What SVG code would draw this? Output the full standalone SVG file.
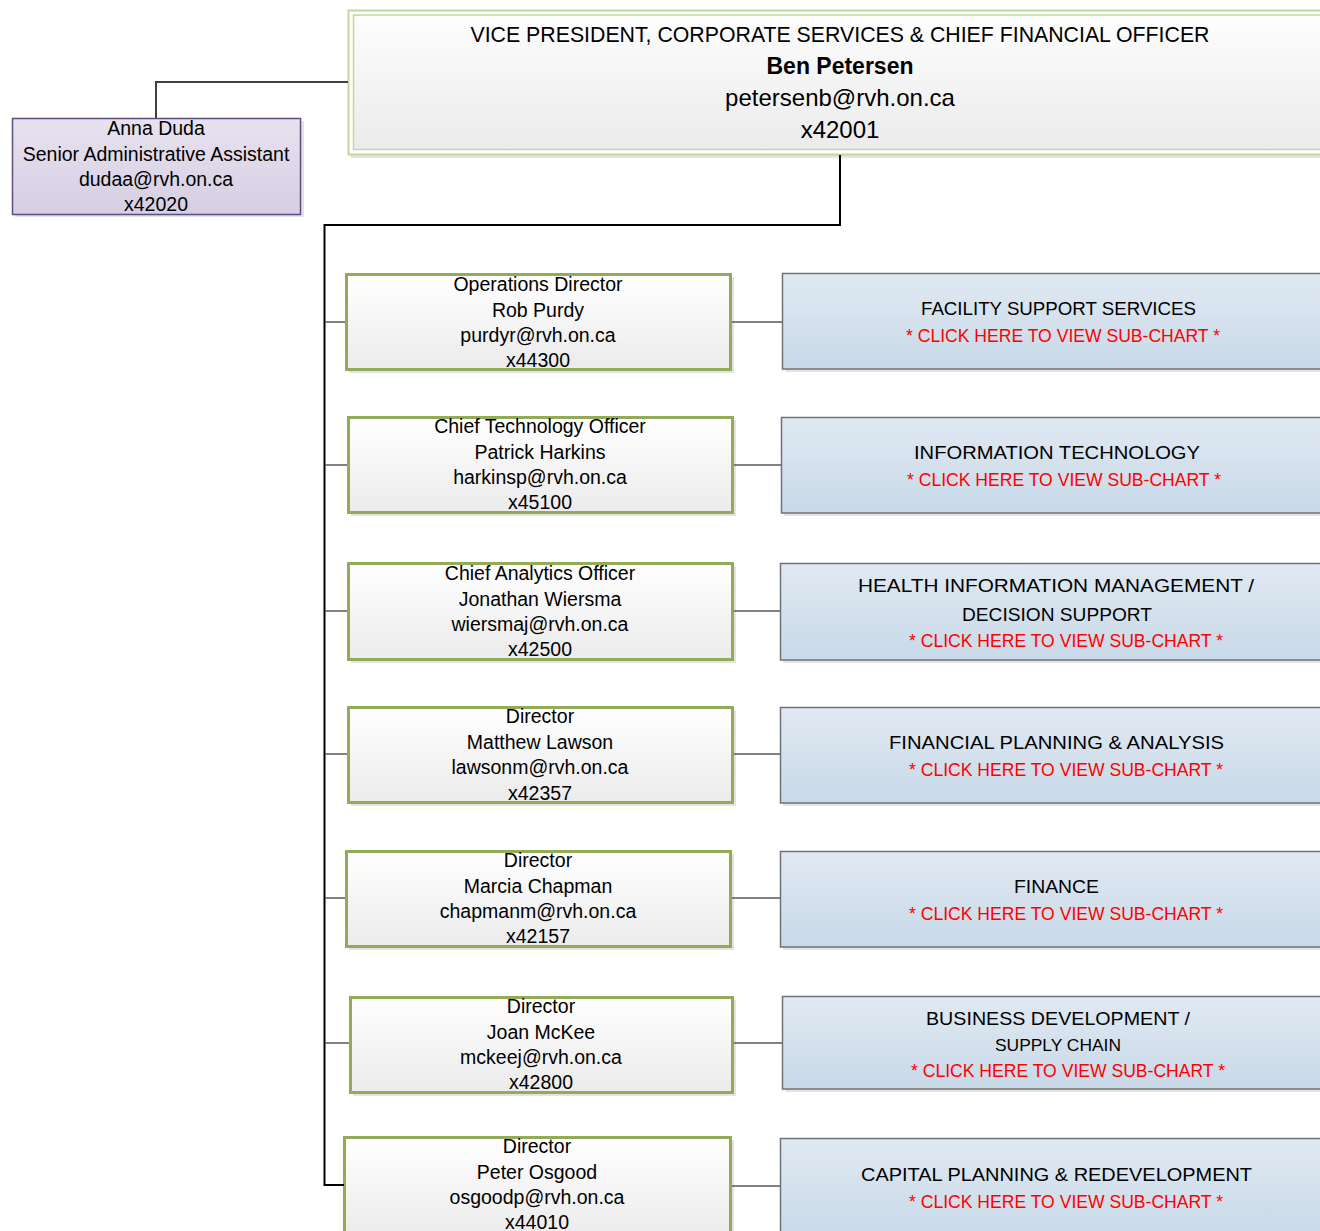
<svg xmlns="http://www.w3.org/2000/svg" width="1320" height="1231" viewBox="0 0 1320 1231">
<defs>
<linearGradient id="gGreen" x1="0" y1="0" x2="0" y2="1"><stop offset="0" stop-color="#ffffff"/><stop offset="1" stop-color="#ebebeb"/></linearGradient>
<linearGradient id="gBlue" x1="0" y1="0" x2="0" y2="1"><stop offset="0" stop-color="#e0e9f2"/><stop offset="1" stop-color="#c8d9e8"/></linearGradient>
<linearGradient id="gPurple" x1="0" y1="0" x2="0" y2="1"><stop offset="0" stop-color="#e7e2ef"/><stop offset="1" stop-color="#d6cee3"/></linearGradient>
<linearGradient id="gVP" x1="0" y1="0" x2="0" y2="1"><stop offset="0" stop-color="#fdfdfd"/><stop offset="1" stop-color="#ebebeb"/></linearGradient>
<style>
text{font-family:"Liberation Sans",Arial,sans-serif;fill:#000;text-anchor:middle}
.d{font-size:19.5px}
.vp{font-size:24px}
.bt{font-size:19px}
.red{font-size:17.5px;fill:#ff0000}
.sm{font-size:17px}
.shadow{fill:#e3e3e3}
.dir{fill:url(#gGreen);stroke:#92ab57;stroke-width:3}
.dept{fill:url(#gBlue);stroke:#6f7277;stroke-width:1.5}
.conn{fill:none;stroke:#595959;stroke-width:1.5}
.trunk{fill:none;stroke:#000;stroke-width:2}
</style>
</defs>

<g id="vp">
<rect x="351" y="13" width="1000" height="145" class="shadow"/>
<rect x="348.5" y="10.5" width="1000" height="144" fill="#ffffff" stroke="#c3d69b" stroke-width="2"/>
<rect x="353.5" y="15" width="1000" height="134.5" fill="url(#gVP)" stroke="#c3d69b" stroke-width="1.5"/>
<text x="840" y="42" style="font-size:21.5px" textLength="739" lengthAdjust="spacingAndGlyphs">VICE PRESIDENT, CORPORATE SERVICES &amp; CHIEF FINANCIAL OFFICER</text>
<text x="840" y="74" style="font-size:23px;font-weight:bold">Ben Petersen</text>
<text x="840" y="106" class="vp">petersenb@rvh.on.ca</text>
<text x="840" y="138" class="vp">x42001</text>
</g>

<g id="assistant">
<rect x="15" y="121" width="289" height="96" class="shadow"/>
<rect x="12.5" y="118.5" width="288" height="96" fill="url(#gPurple)" stroke="#5e4d80" stroke-width="1.5"/>
<text x="156" y="135" class="d">Anna Duda</text>
<text x="156" y="161" class="d">Senior Administrative Assistant</text>
<text x="156" y="186" class="d">dudaa@rvh.on.ca</text>
<text x="156" y="211" class="d">x42020</text>
</g>

<g id="purdy">
<rect x="349" y="277" width="385" height="96" class="shadow"/>
<rect x="346.5" y="274.5" width="384" height="95" class="dir"/>
<text x="538" y="291" class="d">Operations Director</text>
<text x="538" y="317" class="d">Rob Purdy</text>
<text x="538" y="342" class="d">purdyr@rvh.on.ca</text>
<text x="538" y="367" class="d">x44300</text>
</g>

<g id="harkins">
<rect x="351" y="420" width="385" height="96" class="shadow"/>
<rect x="348.5" y="417.5" width="384" height="95" class="dir"/>
<text x="540" y="433" class="d">Chief Technology Officer</text>
<text x="540" y="459" class="d">Patrick Harkins</text>
<text x="540" y="484" class="d">harkinsp@rvh.on.ca</text>
<text x="540" y="509" class="d">x45100</text>
</g>

<g id="wiersma">
<rect x="351" y="566" width="385" height="97" class="shadow"/>
<rect x="348.5" y="563.5" width="384" height="96" class="dir"/>
<text x="540" y="580" class="d">Chief Analytics Officer</text>
<text x="540" y="606" class="d">Jonathan Wiersma</text>
<text x="540" y="631" class="d">wiersmaj@rvh.on.ca</text>
<text x="540" y="656" class="d">x42500</text>
</g>

<g id="lawson">
<rect x="351" y="710" width="385" height="96" class="shadow"/>
<rect x="348.5" y="707.5" width="384" height="95" class="dir"/>
<text x="540" y="723" class="d">Director</text>
<text x="540" y="749" class="d">Matthew Lawson</text>
<text x="540" y="774" class="d">lawsonm@rvh.on.ca</text>
<text x="540" y="800" class="d">x42357</text>
</g>

<g id="chapman">
<rect x="349" y="854" width="385" height="96" class="shadow"/>
<rect x="346.5" y="851.5" width="384" height="95" class="dir"/>
<text x="538" y="867" class="d">Director</text>
<text x="538" y="893" class="d">Marcia Chapman</text>
<text x="538" y="918" class="d">chapmanm@rvh.on.ca</text>
<text x="538" y="943" class="d">x42157</text>
</g>

<g id="mckee">
<rect x="353" y="1000" width="383" height="96" class="shadow"/>
<rect x="350.5" y="997.5" width="382" height="95" class="dir"/>
<text x="541" y="1013" class="d">Director</text>
<text x="541" y="1039" class="d">Joan McKee</text>
<text x="541" y="1064" class="d">mckeej@rvh.on.ca</text>
<text x="541" y="1089" class="d">x42800</text>
</g>

<g id="osgood">
<rect x="347" y="1140" width="387" height="100" class="shadow"/>
<rect x="344.5" y="1137.5" width="386" height="100" class="dir"/>
<text x="537" y="1153" class="d">Director</text>
<text x="537" y="1179" class="d">Peter Osgood</text>
<text x="537" y="1204" class="d">osgoodp@rvh.on.ca</text>
<text x="537" y="1229" class="d">x44010</text>
</g>

<g id="facility">
<rect x="785" y="276" width="560" height="96" class="shadow"/>
<rect x="782.5" y="273.5" width="560" height="95.5" class="dept"/>
<text x="1058.5" y="315" class="bt" textLength="275" lengthAdjust="spacingAndGlyphs">FACILITY SUPPORT SERVICES</text>
<text x="1063" y="342" class="red" textLength="314" lengthAdjust="spacingAndGlyphs">* CLICK HERE TO VIEW SUB-CHART *</text>
</g>

<g id="it">
<rect x="784" y="420" width="560" height="96" class="shadow"/>
<rect x="781.5" y="417.5" width="560" height="95.5" class="dept"/>
<text x="1057" y="459" class="bt" textLength="286" lengthAdjust="spacingAndGlyphs">INFORMATION TECHNOLOGY</text>
<text x="1064" y="486" class="red" textLength="314" lengthAdjust="spacingAndGlyphs">* CLICK HERE TO VIEW SUB-CHART *</text>
</g>

<g id="him">
<rect x="783" y="566" width="560" height="97" class="shadow"/>
<rect x="780.5" y="563.5" width="560" height="96.5" class="dept"/>
<text x="1056" y="592" class="bt" textLength="396" lengthAdjust="spacingAndGlyphs">HEALTH INFORMATION MANAGEMENT /</text>
<text x="1057" y="621" class="bt" textLength="190" lengthAdjust="spacingAndGlyphs">DECISION SUPPORT</text>
<text x="1066" y="647" class="red" textLength="314" lengthAdjust="spacingAndGlyphs">* CLICK HERE TO VIEW SUB-CHART *</text>
</g>

<g id="fpa">
<rect x="783" y="710" width="560" height="96" class="shadow"/>
<rect x="780.5" y="707.5" width="560" height="95.5" class="dept"/>
<text x="1056.5" y="749" class="bt" textLength="335" lengthAdjust="spacingAndGlyphs">FINANCIAL PLANNING &amp; ANALYSIS</text>
<text x="1066" y="776" class="red" textLength="314" lengthAdjust="spacingAndGlyphs">* CLICK HERE TO VIEW SUB-CHART *</text>
</g>

<g id="finance">
<rect x="783" y="854" width="560" height="96" class="shadow"/>
<rect x="780.5" y="851.5" width="560" height="95.5" class="dept"/>
<text x="1056.5" y="893" class="bt" textLength="85" lengthAdjust="spacingAndGlyphs">FINANCE</text>
<text x="1066" y="920" class="red" textLength="314" lengthAdjust="spacingAndGlyphs">* CLICK HERE TO VIEW SUB-CHART *</text>
</g>

<g id="bizdev">
<rect x="785" y="999" width="560" height="93" class="shadow"/>
<rect x="782.5" y="996.5" width="560" height="92.5" class="dept"/>
<text x="1058" y="1025" class="bt" textLength="264" lengthAdjust="spacingAndGlyphs">BUSINESS DEVELOPMENT /</text>
<text x="1058" y="1051" class="sm" textLength="126" lengthAdjust="spacingAndGlyphs">SUPPLY CHAIN</text>
<text x="1068" y="1077" class="red" textLength="314" lengthAdjust="spacingAndGlyphs">* CLICK HERE TO VIEW SUB-CHART *</text>
</g>

<g id="capital">
<rect x="783" y="1141" width="560" height="100" class="shadow"/>
<rect x="780.5" y="1138.5" width="560" height="100" class="dept"/>
<text x="1056.5" y="1181" class="bt" textLength="391" lengthAdjust="spacingAndGlyphs">CAPITAL PLANNING &amp; REDEVELOPMENT</text>
<text x="1066" y="1208" class="red" textLength="314" lengthAdjust="spacingAndGlyphs">* CLICK HERE TO VIEW SUB-CHART *</text>
</g>

<g id="connectors">
<path d="M348,82 H156 V118" fill="none" stroke="#404040" stroke-width="2"/>
<path class="trunk" d="M840,155 V225 H324.5 V611" stroke-width="2.5"/>
<path class="trunk" d="M324.5,611 V1185 H344" stroke-width="1.8"/>
<path class="conn" d="M325,322 H345"/>
<path class="conn" d="M325,465 H347"/>
<path class="conn" d="M325,611 H347"/>
<path class="conn" d="M325,754 H347"/>
<path class="conn" d="M325,898 H345"/>
<path class="conn" d="M325,1043 H349"/>
<path class="conn" d="M732,322 H782"/>
<path class="conn" d="M734,465 H781"/>
<path class="conn" d="M734,611 H780"/>
<path class="conn" d="M734,754 H780"/>
<path class="conn" d="M732,898 H780"/>
<path class="conn" d="M734,1043 H782" stroke="#404040"/>
<path class="conn" d="M732,1186 H780" stroke="#404040"/>
</g>
</svg>
